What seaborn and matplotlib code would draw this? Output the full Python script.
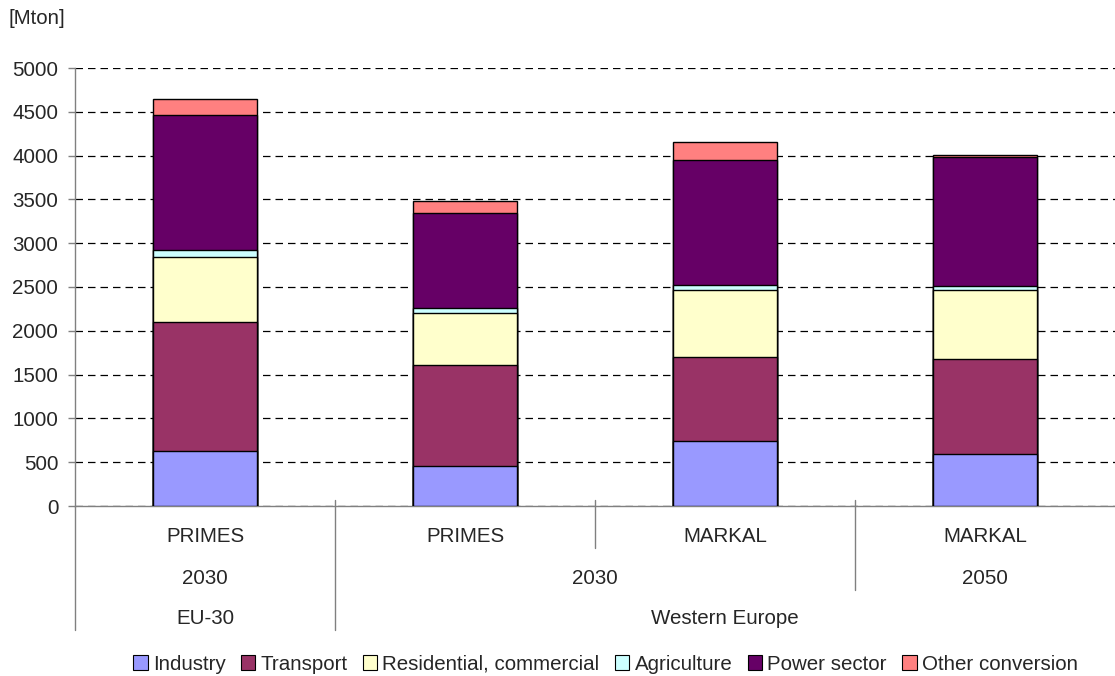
import matplotlib
matplotlib.use("Agg")
import matplotlib.pyplot as plt
from matplotlib.patches import Patch
import numpy as np
import pandas as pd
import seaborn as sns

# Scenario axis: model / year / region
models = ["PRIMES", "PRIMES", "MARKAL", "MARKAL"]
years = ["2030", "2030", "2030", "2050"]
regions = ["EU-30", "Western Europe", "Western Europe", "Western Europe"]

sectors = ["Industry", "Transport", "Residential, commercial",
           "Agriculture", "Power sector", "Other conversion"]

# CO2 emissions per sector [Mton]
industry = [628, 457, 739, 590]
transport = [1472, 1156, 958, 1088]
residential = [739, 590, 765, 788]
agriculture = [80, 61, 61, 45]
power = [1544, 1077, 1427, 1477]
other_conversion = [183, 141, 202, 19]

colors = ["#9999FF", "#993366", "#FFFFCC", "#CCFFFF", "#660066", "#FF8080"]

scenario_ids = [f"{m} {y} {r} {i}" for i, (m, y, r) in
                enumerate(zip(models, years, regions))]
df = pd.DataFrame({
    "scenario": scenario_ids,
    "Industry": industry,
    "Transport": transport,
    "Residential, commercial": residential,
    "Agriculture": agriculture,
    "Power sector": power,
    "Other conversion": other_conversion,
})
cum = df[sectors].cumsum(axis=1)
cum["scenario"] = df["scenario"]

sns.set_style("white")
plt.rcParams["font.family"] = ["Liberation Sans", "DejaVu Sans"]

FS = 14.8
W, H = 1115, 676
fig = plt.figure(figsize=(W / 100, H / 100), dpi=100)
ax_left, ax_right, ax_top, ax_bottom = 75, 1115, 68, 506
ax = fig.add_axes([ax_left / W, 1 - ax_bottom / H,
                   (ax_right - ax_left) / W, (ax_bottom - ax_top) / H])

# Stacked bars: draw cumulative totals from the top layer down
for sector, color in reversed(list(zip(sectors, colors))):
    sns.barplot(data=cum, x="scenario", y=sector, order=scenario_ids,
                color=color, saturation=1, width=0.4, errorbar=None,
                edgecolor="black", linewidth=1.0, ax=ax, zorder=3)

ax.set_xlim(-0.5, len(scenario_ids) - 0.5)
ax.set_ylim(0, 5000)
ax.set_yticks(np.arange(0, 5001, 500))
ax.set_xticks([])
ax.set_xlabel("")
ax.set_ylabel("")
ax.yaxis.grid(True, color="black", linestyle=(0, (6, 4)), linewidth=0.9)
ax.set_axisbelow(True)
for s in ["top", "right"]:
    ax.spines[s].set_visible(False)
for s in ["left", "bottom"]:
    ax.spines[s].set_color("#808080")
    ax.spines[s].set_linewidth(1.0)
ax.tick_params(axis="y", direction="out", length=5, width=1.0,
               color="#808080", labelsize=FS, pad=7, left=True)

fig.text(8 / W, 1 - 19 / H, "[Mton]", fontsize=FS, va="center", ha="left")

# Multi-level category labels beneath the axis
axh = ax_bottom - ax_top
def ay(p):
    return (ax_bottom - p) / axh

trans = ax.get_xaxis_transform()
lab_kw = dict(transform=trans, ha="center", va="center", fontsize=FS,
              clip_on=False)
for i, m in enumerate(models):
    ax.text(i, ay(536), m, **lab_kw)

# label groups: consecutive equal labels, split where the region changes
def groups(labels, keys):
    out = []
    start = 0
    for i in range(1, len(labels) + 1):
        if i == len(labels) or labels[i] != labels[start] or keys[i] != keys[start]:
            out.append((start, i - 1, labels[start]))
            start = i
    return out

year_groups = groups(years, regions)
region_groups = groups(regions, regions)
for a, b, t in year_groups:
    ax.text((a + b) / 2, ay(578), t, **lab_kw)
for a, b, t in region_groups:
    ax.text((a + b) / 2, ay(618), t, **lab_kw)

# Separator lines between categories
line_kw = dict(transform=trans, color="#808080", linewidth=1.0, clip_on=False)
depth = {1: 548, 2: 590, 3: 630}
bounds = {i: 1 for i in range(len(models) + 1)}
for a, b, _ in year_groups:
    bounds[a] = max(bounds[a], 2)
    bounds[b + 1] = max(bounds[b + 1], 2)
for a, b, _ in region_groups:
    bounds[a] = 3
    bounds[b + 1] = 3
for i, lvl in bounds.items():
    if i == len(models):
        continue
    x = i - 0.5
    top = ax_bottom if i == 0 else 500
    ax.plot([x, x], [ay(top), ay(depth[lvl])], **line_kw)

handles = [Patch(facecolor=c, edgecolor="black", linewidth=0.8, label=s)
           for s, c in zip(sectors, colors)]
fig.legend(handles=handles, loc="center", bbox_to_anchor=(0.543, 1 - 664 / H),
           ncol=6, frameon=False, fontsize=FS, handlelength=0.7,
           handleheight=0.7, handletextpad=0.25, columnspacing=0.75,
           borderpad=0)

fig.savefig("out.png", dpi=100)
